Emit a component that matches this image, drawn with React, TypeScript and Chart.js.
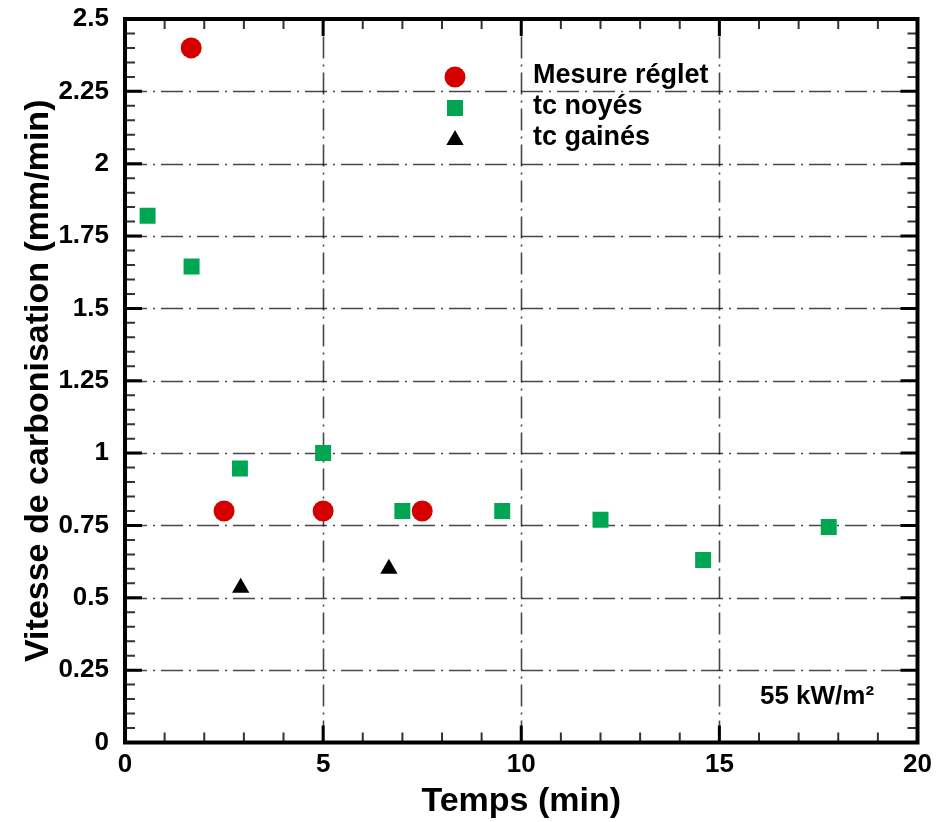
import React, { useEffect, useRef } from 'react';
import { Chart, registerables } from 'chart.js';

Chart.register(...registerables);

// ---- data ----
const seriesNames = ['Mesure réglet', 'tc noyés', 'tc gainés'];
const mesureX = [1.67, 2.5, 5.0, 7.5];
const mesureY = [2.4, 0.8, 0.8, 0.8];
const noyesX = [0.57, 1.68, 2.9, 5.0, 7.0, 9.52, 12.0, 14.59, 17.76];
const noyesY = [1.82, 1.645, 0.947, 1.0, 0.8, 0.8, 0.77, 0.631, 0.745];
const gainesX = [2.92, 6.66];
const gainesY = [0.535, 0.6];

const xTickValues = [0, 5, 10, 15, 20];
const yTickValues = [0, 0.25, 0.5, 0.75, 1, 1.25, 1.5, 1.75, 2, 2.25, 2.5];
const yTickLabels = ['0', '0.25', '0.5', '0.75', '1', '1.25', '1.5', '1.75', '2', '2.25', '2.5'];
const xMinorStep = 1;
const yMinorStep = 0.05;
const xTitle = 'Temps (min)';
const yTitle = 'Vitesse de carbonisation (mm/min)';
const annotationText = '55 kW/m²';

const RED = '#d40000';
const GREEN = '#00a651';
const BLACK = '#000000';
const FONT = '"Liberation Sans", Arial, Helvetica, sans-serif';

const toPoints = (xs: number[], ys: number[]) => xs.map((x, i) => ({ x, y: ys[i] }));

function drawMarker(ctx: CanvasRenderingContext2D, style: string, x: number, y: number, r: number, color: string) {
  ctx.save();
  ctx.fillStyle = color;
  ctx.beginPath();
  if (style === 'circle') {
    ctx.arc(x, y, r, 0, Math.PI * 2);
  } else if (style === 'rect') {
    const s = Math.SQRT1_2 * r;
    ctx.rect(x - s, y - s, 2 * s, 2 * s);
  } else {
    let a = 0;
    ctx.moveTo(x + Math.sin(a) * r, y - Math.cos(a) * r);
    a += (2 * Math.PI) / 3;
    ctx.lineTo(x + Math.sin(a) * r, y - Math.cos(a) * r);
    a += (2 * Math.PI) / 3;
    ctx.lineTo(x + Math.sin(a) * r, y - Math.cos(a) * r);
    ctx.closePath();
  }
  ctx.fill();
  ctx.restore();
}

const framePlugin = {
  id: 'frameTicksGrid',
  beforeDatasetsDraw(chart: any) {
    const { ctx, chartArea } = chart;
    const { left, right, top, bottom } = chartArea;
    const xs = chart.scales.x;
    const ys = chart.scales.y;
    ctx.save();
    ctx.strokeStyle = 'rgba(0,0,0,0.72)';
    ctx.lineWidth = 1.6;
    ctx.setLineDash([22, 6, 2, 6]);
    xTickValues.forEach((v) => {
      if (v === xs.min || v === xs.max) return;
      const px = Math.round(xs.getPixelForValue(v)) + 0.5;
      ctx.beginPath();
      ctx.moveTo(px, bottom);
      ctx.lineTo(px, top);
      ctx.stroke();
    });
    yTickValues.forEach((v) => {
      if (v === ys.min || v === ys.max) return;
      const py = Math.round(ys.getPixelForValue(v)) + 0.5;
      ctx.beginPath();
      ctx.moveTo(left, py);
      ctx.lineTo(right, py);
      ctx.stroke();
    });
    ctx.restore();
  },
  afterDatasetsDraw(chart: any) {
    const { ctx, chartArea } = chart;
    const { left, right, top, bottom } = chartArea;
    const xs = chart.scales.x;
    const ys = chart.scales.y;
    const majorLen = 17;
    const minorLen = 10;
    ctx.save();
    ctx.setLineDash([]);
    // minor ticks
    ctx.strokeStyle = '#333';
    ctx.lineWidth = 2;
    const nx = Math.round((xs.max - xs.min) / xMinorStep);
    for (let i = 0; i <= nx; i++) {
      const v = xs.min + i * xMinorStep;
      if (xTickValues.some((t) => Math.abs(t - v) < 1e-9)) continue;
      const px = xs.getPixelForValue(v);
      ctx.beginPath();
      ctx.moveTo(px, bottom);
      ctx.lineTo(px, bottom - minorLen);
      ctx.moveTo(px, top);
      ctx.lineTo(px, top + minorLen);
      ctx.stroke();
    }
    const ny = Math.round((ys.max - ys.min) / yMinorStep);
    for (let i = 0; i <= ny; i++) {
      const v = ys.min + i * yMinorStep;
      if (yTickValues.some((t) => Math.abs(t - v) < 1e-9)) continue;
      const py = ys.getPixelForValue(v);
      ctx.beginPath();
      ctx.moveTo(left, py);
      ctx.lineTo(left + minorLen, py);
      ctx.moveTo(right, py);
      ctx.lineTo(right - minorLen, py);
      ctx.stroke();
    }
    // major ticks
    ctx.strokeStyle = '#000';
    ctx.lineWidth = 3;
    xTickValues.forEach((v) => {
      const px = xs.getPixelForValue(v);
      ctx.beginPath();
      ctx.moveTo(px, bottom);
      ctx.lineTo(px, bottom - majorLen);
      ctx.moveTo(px, top);
      ctx.lineTo(px, top + majorLen);
      ctx.stroke();
    });
    yTickValues.forEach((v) => {
      const py = ys.getPixelForValue(v);
      ctx.beginPath();
      ctx.moveTo(left, py);
      ctx.lineTo(left + majorLen, py);
      ctx.moveTo(right, py);
      ctx.lineTo(right - majorLen, py);
      ctx.stroke();
    });
    // frame
    ctx.lineWidth = 4;
    ctx.strokeRect(left, top, right - left, bottom - top);
    ctx.restore();
  },
  afterDraw(chart: any) {
    const { ctx } = chart;
    ctx.save();
    // legend
    const styles = ['circle', 'rect', 'triangle'];
    const radii = [10.5, 11.3, 10];
    const colors = [RED, GREEN, BLACK];
    const markerY = [77, 108, 140];
    const textY = [76, 107, 138];
    ctx.font = `bold 27px ${FONT}`;
    ctx.fillStyle = '#000';
    ctx.textBaseline = 'middle';
    ctx.textAlign = 'left';
    seriesNames.forEach((name, i) => {
      drawMarker(ctx, styles[i], 455, markerY[i], radii[i], colors[i]);
      ctx.fillStyle = '#000';
      ctx.fillText(name, 533, textY[i]);
    });
    // annotation
    ctx.font = `bold 26px ${FONT}`;
    ctx.textAlign = 'center';
    ctx.fillText(annotationText, 817, 697);
    ctx.restore();
  },
};

export default function App() {
  const canvasRef = useRef<HTMLCanvasElement | null>(null);

  useEffect(() => {
    if (!canvasRef.current) return;
    const chart = new Chart(canvasRef.current, {
      type: 'scatter',
      data: {
        datasets: [
          {
            label: seriesNames[0],
            data: toPoints(mesureX, mesureY),
            pointStyle: 'circle',
            pointRadius: 10.5,
            pointHoverRadius: 10.5,
            backgroundColor: RED,
            borderColor: RED,
            borderWidth: 0,
          },
          {
            label: seriesNames[1],
            data: toPoints(noyesX, noyesY),
            pointStyle: 'rect',
            pointRadius: 11.3,
            pointHoverRadius: 11.3,
            backgroundColor: GREEN,
            borderColor: GREEN,
            borderWidth: 0,
          },
          {
            label: seriesNames[2],
            data: toPoints(gainesX, gainesY),
            pointStyle: 'triangle',
            pointRadius: 10,
            pointHoverRadius: 10,
            backgroundColor: BLACK,
            borderColor: BLACK,
            borderWidth: 0,
          },
        ],
      },
      options: {
        animation: false,
        responsive: false,
        devicePixelRatio: 1,
        layout: { padding: { top: 19, right: 32.5, bottom: 0, left: 0 } },
        plugins: {
          legend: { display: false },
          tooltip: { enabled: false },
        },
        scales: {
          x: {
            type: 'linear',
            min: 0,
            max: 20,
            afterFit: (s: any) => {
              s.height = 79.5;
              s.paddingLeft = 0;
              s.paddingRight = 0;
            },
            grid: { display: false, drawTicks: false },
            border: { display: false },
            ticks: {
              stepSize: 5,
              autoSkip: false,
              padding: 7,
              color: '#000',
              font: { family: FONT, weight: 'bold', size: 26 },
              callback: (v: any) => String(v),
            },
            title: {
              display: true,
              text: xTitle,
              color: '#000',
              font: { family: FONT, weight: 'bold', size: 34 },
              padding: { top: 0, bottom: 0 },
            },
          },
          y: {
            type: 'linear',
            min: 0,
            max: 2.5,
            afterFit: (s: any) => {
              s.width = 125;
              s.paddingTop = 0;
              s.paddingBottom = 0;
            },
            grid: { display: false, drawTicks: false },
            border: { display: false },
            ticks: {
              stepSize: 0.25,
              autoSkip: false,
              padding: 16,
              color: '#000',
              font: { family: FONT, weight: 'bold', size: 26 },
              callback: (v: any) => {
                const idx = yTickValues.findIndex((t) => Math.abs(t - v) < 1e-9);
                return idx >= 0 ? yTickLabels[idx] : '';
              },
            },
            title: {
              display: true,
              text: yTitle,
              color: '#000',
              font: { family: FONT, weight: 'bold', size: 34 },
              padding: { top: 18, bottom: 0 },
            },
          },
        },
      } as any,
      plugins: [framePlugin],
    });
    return () => chart.destroy();
  }, []);

  return (
    <div style={{ position: 'absolute', left: 0, top: 0, width: 950, height: 822, background: '#fff' }}>
      <canvas ref={canvasRef} width={950} height={822} style={{ display: 'block' }} />
    </div>
  );
}
